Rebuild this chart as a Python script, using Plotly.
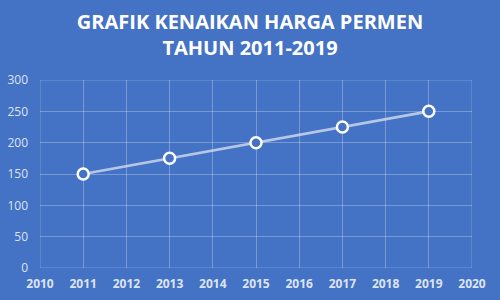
import plotly.graph_objects as go

years = [2011, 2013, 2015, 2017, 2019]
prices = [150, 175, 200, 225, 250]
title_text = "GRAFIK KENAIKAN HARGA PERMEN<br>TAHUN 2011-2019"

bg = "#4472C4"
grid = "rgba(255,255,255,0.28)"
tick_col = "#DCE4F2"

fig = go.Figure()
fig.add_trace(go.Scatter(
    x=years, y=prices, mode="lines+markers",
    line=dict(color="rgba(220,228,242,0.75)", width=2.75),
    marker=dict(size=11, color=bg, line=dict(color="white", width=2.5)),
    showlegend=False,
))

fig.update_layout(
    width=500, height=300,
    paper_bgcolor=bg, plot_bgcolor=bg,
    margin=dict(l=40, r=28, t=80, b=32),
    title=dict(text=title_text, x=0.5, xanchor="center", y=0.905, yanchor="top",
               font=dict(family="Open Sans", size=20, color="white", weight="bold")),
    xaxis=dict(range=[2010, 2020], dtick=1, tick0=2010, showgrid=True, gridcolor=grid,
               gridwidth=1, zeroline=False, showline=False, automargin=False,
               tickfont=dict(family="Open Sans", size=12, color=tick_col, weight="bold"),
               ticks="", ticklabelstandoff=7),
    yaxis=dict(range=[0, 300], dtick=50, showgrid=True, gridcolor=grid, gridwidth=1,
               zeroline=False, showline=False, automargin=False,
               tickfont=dict(family="Open Sans", size=12, color=tick_col),
               ticks="", ticklabelstandoff=11),
)
fig.add_shape(type="rect", xref="x", yref="y", x0=2010, x1=2020, y0=0, y1=300,
              line=dict(color=grid, width=1), layer="below")

fig.write_html("out.html")
